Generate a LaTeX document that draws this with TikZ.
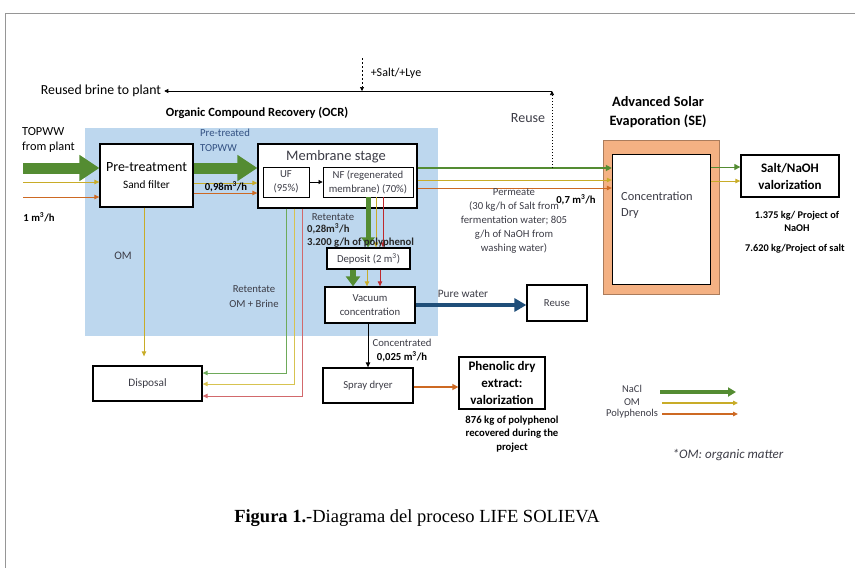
\documentclass[tikz,border=0pt]{standalone}
\usepackage{fontspec}
\setmainfont{Carlito}
\newfontfamily\captionfont{Liberation Serif}
\usetikzlibrary{arrows.meta}
\definecolor{ocrblue}{RGB}{189,215,238}
\definecolor{seorange}{RGB}{244,177,131}
\definecolor{naclgreen}{RGB}{84,140,50}
\definecolor{omyellow}{RGB}{200,172,40}
\definecolor{polyorange}{RGB}{205,105,35}
\definecolor{retgreen}{RGB}{110,170,90}
\definecolor{retyellow}{RGB}{215,195,80}
\definecolor{retred}{RGB}{190,40,45}
\definecolor{waterblue}{RGB}{31,78,121}
\definecolor{labelgray}{RGB}{60,60,70}
\definecolor{topblue}{RGB}{50,80,130}
\definecolor{framegray}{RGB}{150,150,150}
\newcommand{\fsize}[2]{\fontsize{#1}{#2}\selectfont}

\begin{document}
\begin{tikzpicture}[x=1pt,y=-1pt,
  box/.style={draw,line width=1.3pt,fill=white,align=center,inner sep=1pt,text=labelgray,font=\fsize{10.7}{14}},
  lbl/.style={inner sep=0pt,align=center,text=labelgray,font=\fsize{10.7}{14}},
  bold/.style={inner sep=0pt,align=center,font=\bfseries\fsize{10.7}{13.5}},
  bigflow/.style={naclgreen,line width=11pt,-{Triangle[length=20pt,width=25pt]}},
  naclflow/.style={naclgreen,line width=2pt,-{Triangle[length=6pt,width=6pt]}},
  omflow/.style={omyellow,line width=1pt,-{Triangle[length=5pt,width=4.5pt]}},
  polyflow/.style={polyorange,line width=1pt,-{Triangle[length=5pt,width=4.5pt]}},
  redflow/.style={retred,line width=1pt,-{Triangle[length=5pt,width=4.5pt]}}
]
% Frame
\useasboundingbox (0,0) rectangle (855,568);
\draw[framegray,line width=0.8pt] (5,568) -- (5,13) -- (855,13);

% Process areas
\fill[ocrblue] (85,128) rectangle (438,336);
\node[font=\bfseries\fsize{12.5}{14}] (ocrtitle) at (257,113) {Organic Compound Recovery (OCR)};
\node[fill=seorange,draw=seorange!70!black,line width=0.6pt,minimum width=116pt,minimum height=154pt] (se) at (661,217) {};
\node[box,minimum width=98pt,minimum height=130pt] (seinner) at (661.5,219.5) {};
\node[lbl,anchor=north west,align=left,font=\fsize{12.4}{16}] (setext) at (621,192) {Concentration\\Dry};
\node[font=\bfseries\fsize{14.3}{19},align=center] (setitle) at (658,112) {Advanced Solar\\Evaporation (SE)};

% Boxes
\node[box,text=black,minimum width=93pt,minimum height=63pt,font=\fsize{14}{17}] (pretreat) at (146.5,175.5) {Pre-treatment\\\fsize{11.3}{12}Sand filter};
\node[box,minimum width=159pt,minimum height=64pt] (membrane) at (337.5,176) {};
\node[text=labelgray,font=\fsize{14.5}{16}] (memtitle) at (336,157) {Membrane stage};
\node[box,line width=0.8pt,minimum width=46pt,minimum height=30pt] (uf) at (286,182) {UF\\(95\%)};
\node[box,line width=0.8pt,minimum width=90pt,minimum height=30pt] (nf) at (368,182) {NF (regenerated\\membrane) (70\%)};
\node[box,minimum width=83pt,minimum height=21pt] (deposit) at (368.5,258.5) {Deposit (2 m\textsuperscript{3})};
\node[box,minimum width=90pt,minimum height=36pt] (vacuum) at (370,305) {Vacuum\\concentration};
\node[box,minimum width=60pt,minimum height=36pt] (reuse) at (557,303) {Reuse};
\node[box,minimum width=90pt,minimum height=35pt] (spray) at (368,385.5) {Spray dryer};
\node[box,text=black,minimum width=86pt,minimum height=52pt,font=\bfseries\fsize{13}{17}] (phenolic) at (502,383) {Phenolic dry\\extract:\\valorization};
\node[box,minimum width=109pt,minimum height=35pt,font=\fsize{11.3}{12}] (disposal) at (147.5,383.5) {Disposal};
\node[box,text=black,minimum width=98pt,minimum height=42pt,font=\bfseries\fsize{13}{17}] (saltval) at (790,176) {Salt/NaOH\\valorization};

% Feed
\coordinate (feed) at (23,168);
\coordinate (feedom) at (23,182);
\coordinate (feedpoly) at (23,197);
\draw[bigflow] (feed) -- (feed -| pretreat.west);
\draw[omflow] (feedom) -- (feedom -| pretreat.west);
\draw[polyflow] (feedpoly) -- (feedpoly -| pretreat.west);
\node[lbl,text=black,anchor=north west,align=left,font=\fsize{12.3}{15}] (topww) at (22,127) {TOPWW\\from plant};
\node[bold] (feedrate) at (39,217) {1 m\textsuperscript{3}/h};

% Pre-treatment to membranes
\draw[bigflow] (pretreat.east |- feed) -- (membrane.west |- feed);
\draw[omflow] (pretreat.east |- 0,183) -- (membrane.west |- 0,183);
\draw[polyflow] (pretreat.east |- 0,193) -- (membrane.west |- 0,193);
\node[lbl,text=topblue,anchor=north west,align=left,font=\fsize{10.7}{15}] (pretreated) at (200,129) {Pre-treated\\TOPWW};
\node[bold] (prerate) at (226,187) {0,98m\textsuperscript{3}/h};
\draw[line width=0.7pt,-{Triangle[length=4pt,width=4pt]}] (uf) -- (nf);

% Permeate to SE
\draw[naclflow] (membrane.east |- 0,168) -- (seinner.west |- 0,168);
\draw[omflow] (membrane.east |- 0,180) -- (seinner.west |- 0,180);
\draw[polyflow] (membrane.east |- 0,188) -- (seinner.west |- 0,188);
\node[lbl] (permeate) at (514,221) {Permeate\\(30 kg/h of Salt from\\fermentation water; 805\\g/h of NaOH from\\washing water)};
\node[bold] (permrate) at (576,200) {0,7 m\textsuperscript{3}/h};

% Reuse of brine
\coordinate (reusetap) at (552,168);
\coordinate (reusetop) at (552,91);
\draw[line width=0.7pt,dash pattern=on 1.5pt off 1.5pt,-{Triangle[length=4pt,width=4pt]}] (reusetap) -- (reusetop);
\node[inner sep=3pt,font=\fsize{13.8}{15}] (brine) at (101,91) {Reused brine to plant};
\draw[line width=0.6pt,-{Triangle[length=4pt,width=4pt]}] (reusetop) -- (brine.east);
\node[text=labelgray,font=\fsize{14}{15}] (reuselbl) at (528,118) {Reuse};
\coordinate (saltin) at (362,58);
\draw[line width=0.6pt,dash pattern=on 2pt off 2pt,-{Triangle[length=4pt,width=4pt]}] (saltin) -- (362,91);
\node[lbl,text=black,font=\fsize{12}{13}] (saltlye) at (396,73) {+Salt/+Lye};

% SE to valorization
\draw[naclflow,line width=1pt] (seinner.east |- 0,167) -- (saltval.west |- 0,167);
\draw[omflow] (seinner.east |- 0,181) -- (saltval.west |- 0,181);
\node[bold,font=\bfseries\fsize{10.3}{13}] (naohtxt) at (797,221) {1.375 kg/ Project of\\NaOH};
\node[bold,font=\bfseries\fsize{10.3}{13}] (salttxt) at (795,249) {7.620 kg/Project of salt};

% Retentate
\draw[naclgreen,line width=5pt,-{Triangle[length=10pt,width=13pt]}] (nf.south -| 368,0) -- (deposit.north -| 368,0);
\draw[omflow] (nf.south -| 376,0) -- (deposit.north -| 376,0);
\draw[redflow] (nf.south -| 383,0) -- (deposit.north -| 383,0);
\node[lbl] (retlbl) at (333,217) {Retentate};
\node[bold,anchor=north west,align=left,text=black!85] (retrate) at (307,223) {0,28m\textsuperscript{3}/h\\3.200 g/h of polyphenol};
\draw[naclgreen,line width=6pt,-{Triangle[length=10pt,width=14pt]}] (deposit.south -| 353,0) -- (vacuum.north -| 353,0);
\draw[omflow] (deposit.south -| 367,0) -- (vacuum.north -| 367,0);
\draw[redflow] (deposit.south -| 380,0) -- (vacuum.north -| 380,0);

% Disposal
\draw[omflow,shorten >=9pt] (pretreat.south -| 144,0) -- (disposal.north -| 144,0);
\node[lbl,font=\fsize{11.5}{12}] (omlbl) at (123,256) {OM};
\draw[retgreen,line width=1pt,-{Triangle[length=5pt,width=4.5pt]}] (membrane.south -| 286,0) |- (disposal.east |- 0,373);
\draw[retyellow,line width=1pt,-{Triangle[length=5pt,width=4.5pt]}] (membrane.south -| 294,0) |- (disposal.east |- 0,384);
\draw[retred!70,line width=1pt,-{Triangle[length=5pt,width=4.5pt]}] (membrane.south -| 302,0) |- (disposal.east |- 0,396);
\node[lbl,font=\fsize{10.7}{15}] (retdisp) at (254,297) {Retentate\\OM + Brine};

% Vacuum outputs
\draw[waterblue,line width=4pt,-{Triangle[length=12pt,width=13pt]}] (vacuum.east |- 0,305) -- (reuse.west |- 0,305);
\node[lbl,font=\fsize{11.3}{12}] (purewater) at (463,294) {Pure water};
\draw[line width=1pt,-{Triangle[length=5pt,width=4.5pt]}] (vacuum.south -| 368,0) -- (spray.north -| 368,0);
\node[lbl] (conclbl) at (402,343) {Concentrated};
\node[bold] (concrate) at (402,357) {0,025 m\textsuperscript{3}/h};
\draw[polyorange,line width=2pt,-{Triangle[length=6pt,width=6pt]}] (spray.east |- 0,387) -- (phenolic.west |- 0,387);
\node[bold] (phentxt) at (512,434) {876 kg of polyphenol\\recovered during the\\project};

% Legend
\node[lbl,font=\fsize{10.5}{11}] (legnacl) at (632,389) {NaCl};
\node[lbl,font=\fsize{10.5}{11}] (legom) at (632,402) {OM};
\node[lbl,font=\fsize{10.5}{11}] (legpoly) at (632,414) {Polyphenols};
\coordinate (legnaclarr) at (660,392);
\coordinate (legomarr) at (662,403);
\coordinate (legpolyarr) at (662,414);
\draw[naclgreen,line width=3.5pt,-{Triangle[length=8pt,width=9pt]}] (legnaclarr) -- ++(76,0);
\draw[omflow,line width=1.5pt] (legomarr) -- ++(76,0);
\draw[polyflow,line width=1.5pt] (legpolyarr) -- ++(76,0);
\node[lbl,font=\itshape\fsize{13}{14}] (omnote) at (728,455) {*OM: organic matter};

% Caption
\node[inner sep=0pt,font=\captionfont\fsize{18.5}{20}] (caption) at (417,518) {\textbf{Figura 1.}-Diagrama del proceso LIFE SOLIEVA};
\end{tikzpicture}
\end{document}
